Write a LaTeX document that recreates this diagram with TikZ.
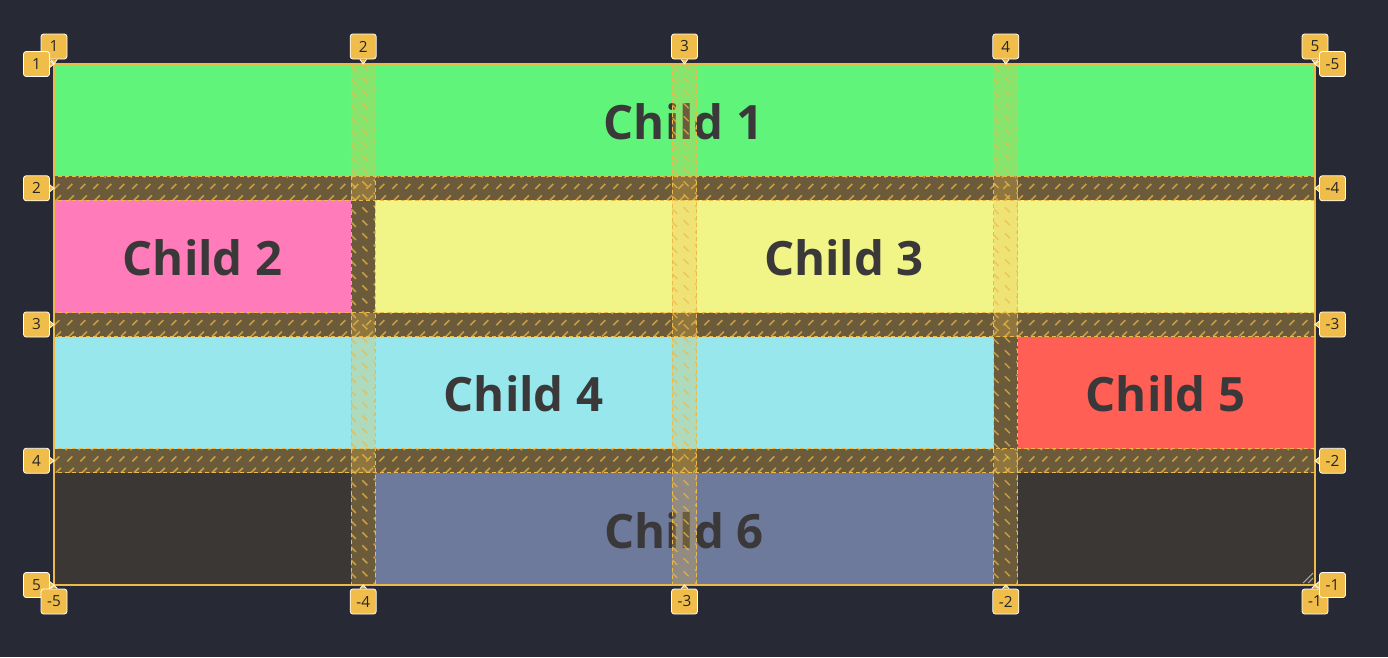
\documentclass[tikz,border=0pt]{standalone}
\usepackage{fontspec}
\setmainfont{Open Sans}
\usepackage{tikz}

\definecolor{pagebg}{HTML}{272935}
\definecolor{gridbg}{HTML}{3B3735}
\definecolor{childgreen}{HTML}{60F57A}
\definecolor{childpink}{HTML}{FF7BBA}
\definecolor{childyellow}{HTML}{F1F487}
\definecolor{childcyan}{HTML}{97E7EC}
\definecolor{childred}{HTML}{FF5F55}
\definecolor{childslate}{HTML}{6E7A9B}
\definecolor{childtext}{HTML}{3A3838}
\definecolor{gridyellow}{HTML}{EDBA4A}
\definecolor{labelyellow}{HTML}{F0BD4B}
\definecolor{labeltext}{HTML}{262626}

\begin{document}
\begin{tikzpicture}[x=0.75pt, y=-0.75pt,
  childname/.style={text=childtext, font=\bfseries\fontsize{35.5}{40}\selectfont},
  gapfill/.style={fill=gridyellow, fill opacity=0.28},
  hatch/.style={draw=gridyellow, opacity=0.7, line width=1.1pt, dash pattern=on 5.25pt off 6.75pt},
  gapedge/.style={draw=gridyellow, line width=0.75pt, dash pattern=on 3pt off 2.25pt},
  linelabel/.style={draw=white, line width=0.6pt, fill=labelyellow, rounded corners=2pt,
    minimum width=19.5pt, minimum height=18.75pt, inner sep=0pt,
    text=labeltext, font=\fontsize{11.5}{12}\selectfont},
  pointer/.style={fill=labelyellow, draw=white, line width=0.6pt}]

  \useasboundingbox (0, 0) rectangle (1388, 657);
  \fill[pagebg] (0, 0) rectangle (1388, 657);
  \fill[gridbg] (54, 64) rectangle (1315, 585);

  \fill[childgreen] (54, 64) rectangle (1315, 176.25);
  \fill[childpink] (54, 200.25) rectangle (351, 312.5);
  \fill[childyellow] (375.3, 200.25) rectangle (1315, 312.5);
  \fill[childcyan] (54, 336.5) rectangle (993.6, 448.75);
  \fill[childred] (1017.9, 336.5) rectangle (1315, 448.75);
  \fill[childslate] (375.3, 472.75) rectangle (993.6, 585);

  \node[childname] (child1) at (683.5, 122) {Child 1};
  \node[childname] (child2) at (202.5, 258) {Child 2};
  \node[childname] (child3) at (844, 258) {Child 3};
  \node[childname] (child4) at (523.5, 394) {Child 4};
  \node[childname] (child5) at (1165.5, 394) {Child 5};
  \node[childname] (child6) at (684, 530.5) {Child 6};

  \foreach \ya/\yb in {176.25/200.25, 312.5/336.5, 448.75/472.75} {
    \fill[gapfill] (54, \ya) rectangle (1315, \yb);
    \begin{scope}
      \clip (54, \ya) rectangle (1315, \yb);
      \foreach \k in {0,...,99}
        \draw[hatch] (30+13*\k, \yb) -- ++(24, -24);
    \end{scope}
    \draw[gapedge] (54, \ya) rectangle (1315, \yb);
  }

  \foreach \xa/\xb in {351/375.3, 672.3/696.6, 993.6/1017.9} {
    \fill[gapfill] (\xa, 64) rectangle (\xb, 585);
    \begin{scope}
      \clip (\xa, 64) rectangle (\xb, 585);
      \foreach \k in {0,...,42}
        \draw[hatch] (\xa, 40+13*\k) -- ++(24.3, 24.3);
    \end{scope}
    \draw[gapedge] (\xa, 64) rectangle (\xb, 585);
  }

  \draw[gridyellow, line width=1.1pt] (54, 64) rectangle (1315, 585);
  \draw[gray!70, line width=0.8pt] (1303, 583) -- (1313, 573) (1308, 583) -- (1313, 578);

  \foreach \x/\n in {54/1, 363.2/2, 684.5/3, 1005.8/4, 1315/5} {
    \node[linelabel] (top\n) at (\x, 46.5) {\n};
    \filldraw[pointer] ([xshift=-2.5pt]top\n.south) -- (\x, 64) -- ([xshift=2.5pt]top\n.south);
  }
  \foreach \y/\n in {64/1, 188.25/2, 324.5/3, 460.75/4, 585/5} {
    \node[linelabel] (left\n) at (36.5, \y) {\n};
    \filldraw[pointer] ([yshift=2.5pt]left\n.east) -- (54, \y) -- ([yshift=-2.5pt]left\n.east);
  }
  \foreach \x/\n [count=\i] in {54/-5, 363.2/-4, 684.5/-3, 1005.8/-2, 1315/-1} {
    \node[linelabel] (bot\i) at (\x, 601.5) {\n};
    \filldraw[pointer] ([xshift=-2.5pt]bot\i.north) -- (\x, 585) -- ([xshift=2.5pt]bot\i.north);
  }
  \foreach \y/\n [count=\i] in {64/-5, 188.25/-4, 324.5/-3, 460.75/-2, 585/-1} {
    \node[linelabel] (right\i) at (1332.5, \y) {\n};
    \filldraw[pointer] ([yshift=2.5pt]right\i.west) -- (1315, \y) -- ([yshift=-2.5pt]right\i.west);
  }

\end{tikzpicture}
\end{document}
